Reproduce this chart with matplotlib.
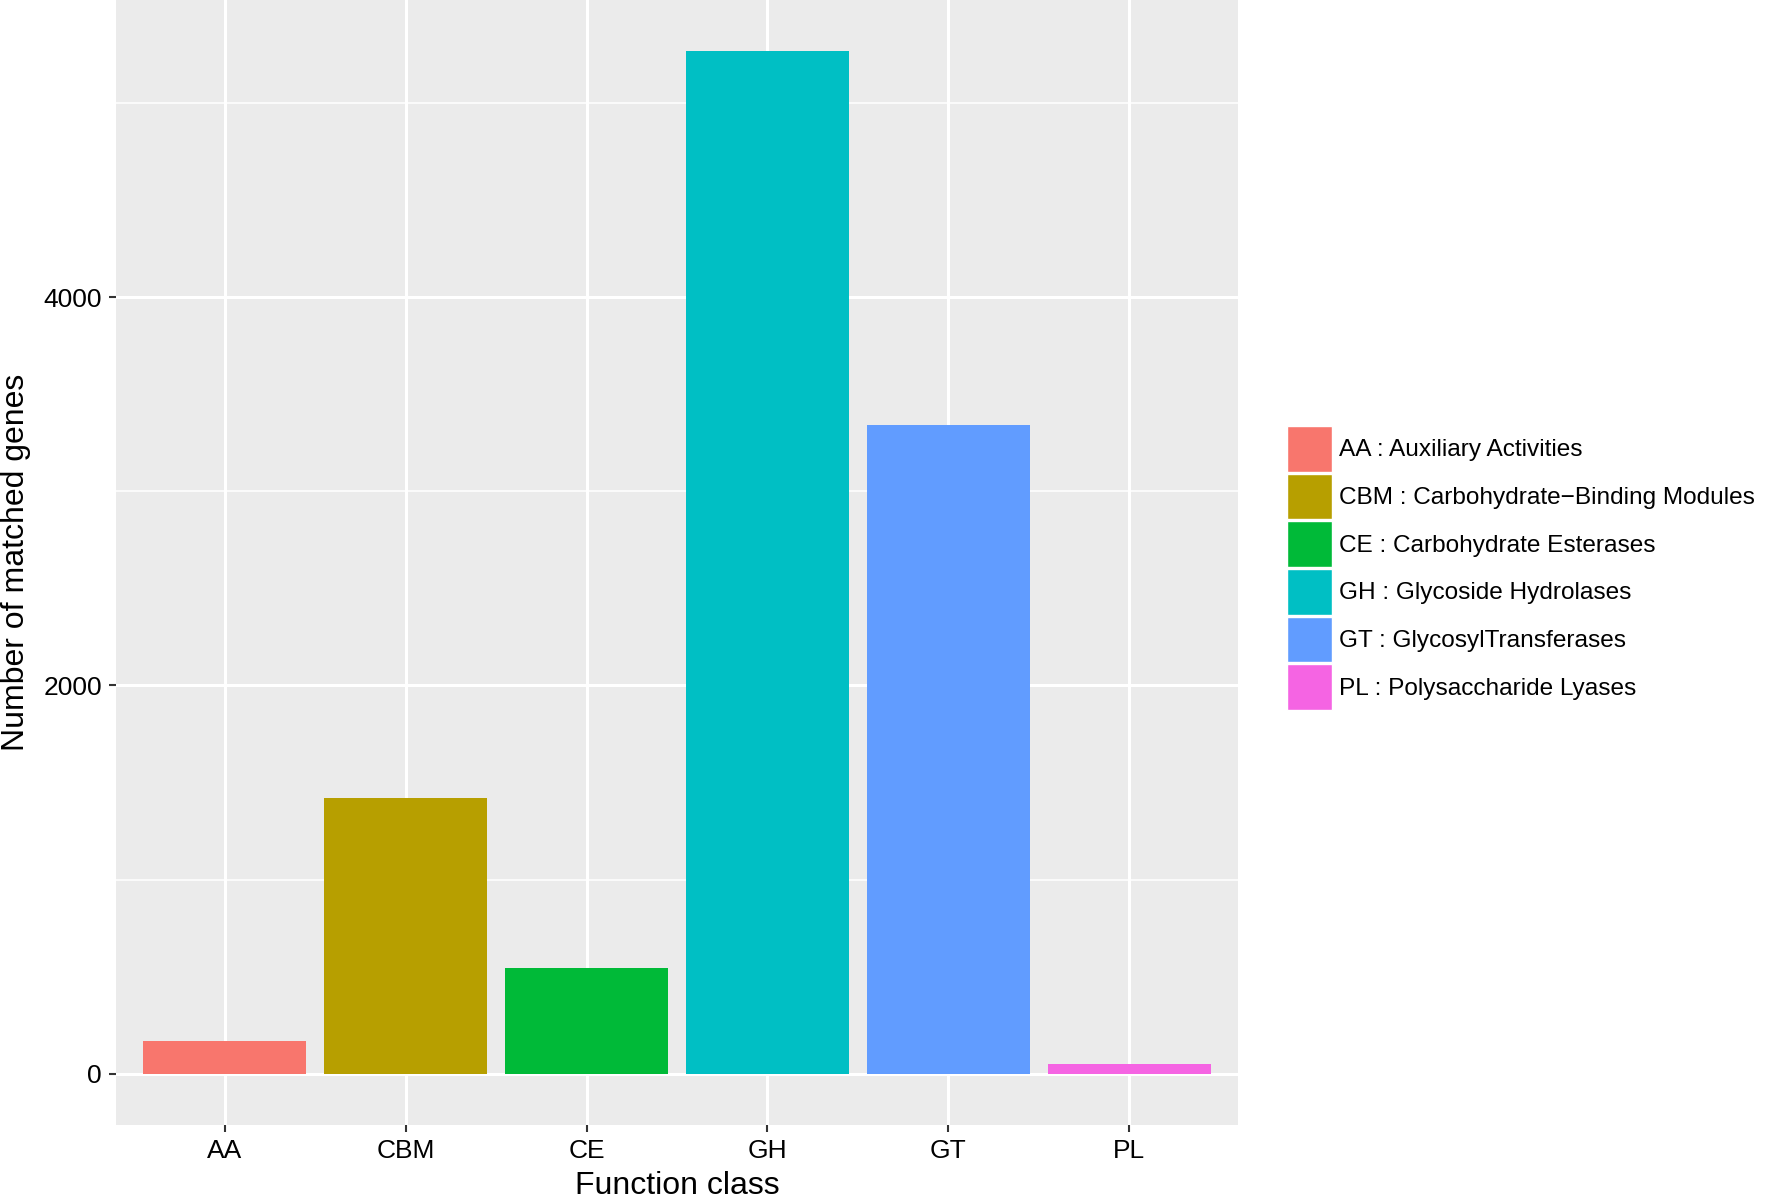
import matplotlib.pyplot as plt
from matplotlib.patches import Patch

plt.rcParams['font.family'] = ['Liberation Sans', 'DejaVu Sans']

# Data
classes = ["AA", "CBM", "CE", "GH", "GT", "PL"]
genes = [171, 1420, 543, 5266, 3343, 50]
descriptions = ["Auxiliary Activities", "Carbohydrate\u2212Binding Modules",
                "Carbohydrate Esterases", "Glycoside Hydrolases",
                "GlycosylTransferases", "Polysaccharide Lyases"]
colors = ["#F8766D", "#B79F00", "#00BA38", "#00BFC4", "#619CFF", "#F564E3"]

W, H = 1770, 1198
fig = plt.figure(figsize=(W / 100, H / 100), dpi=100)
ax = fig.add_axes([116 / W, (H - 1125) / H, 1122 / W, 1125 / H])
ax.set_facecolor("#EBEBEB")

x = list(range(1, len(classes) + 1))
ax.bar(x, genes, width=0.9, color=colors, zorder=3)

ax.set_xlim(0.4, len(classes) + 0.6)
ymax = max(genes)
ax.set_ylim(-0.05 * ymax, 1.05 * ymax)
ax.set_xticks(x)
ax.set_xticklabels(classes)
ax.set_yticks([0, 2000, 4000])
ax.set_yticks([1000, 3000, 5000], minor=True)
ax.grid(which="major", color="white", linewidth=2.2, zorder=0)
ax.grid(which="minor", axis="y", color="white", linewidth=1.1, zorder=0)
ax.set_axisbelow(True)
for s in ax.spines.values():
    s.set_visible(False)
ax.tick_params(which="major", length=5, width=1.5, color="#333333",
               labelsize=19, labelcolor="black", pad=5)
ax.tick_params(which="minor", length=0)

ax.set_xlabel("Function class", fontsize=23, labelpad=6)
ax.set_ylabel("Number of matched genes", fontsize=23, labelpad=9)

handles = [Patch(facecolor=c, edgecolor="white", linewidth=1) for c in colors]
labels = [f"{c} : {d}" for c, d in zip(classes, descriptions)]
fs = 17.6
fig.legend(handles, labels, loc="center left", bbox_to_anchor=(1287 / W, 1 - 568 / H),
           frameon=False, fontsize=fs, handlelength=45 / (fs * 100 / 72),
           handleheight=2.5, labelspacing=0.08, handletextpad=0.3,
           borderaxespad=0, borderpad=0)

fig.savefig("out.png", dpi=100)
